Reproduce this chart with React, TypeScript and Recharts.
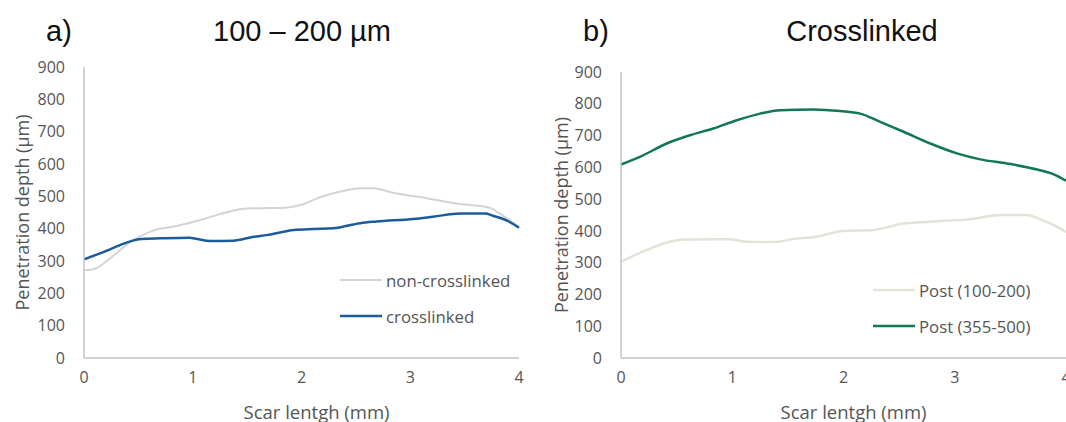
import React from 'react';
import { LineChart, Line, XAxis, YAxis } from 'recharts';

const xTicks = [0, 1, 2, 3, 4];
const yTicks = [0, 100, 200, 300, 400, 500, 600, 700, 800, 900];

// Panel a) 100 – 200 µm
const nonCrossX = [0, 0.08, 0.24, 0.39, 0.61, 0.85, 1.07, 1.25, 1.4, 1.56, 1.86, 1.99, 2.17, 2.35, 2.54, 2.66, 2.84, 3.15, 3.46, 3.73, 3.82, 3.91, 4.0];
const nonCrossY = [272, 274, 308, 350, 391, 408, 427, 445, 458, 463, 465, 473, 497, 514, 525, 525, 511, 494, 476, 465, 447, 427, 405];
const crossX = [0, 0.24, 0.39, 0.53, 0.7, 0.97, 1.04, 1.16, 1.37, 1.56, 1.68, 1.93, 2.11, 2.29, 2.54, 2.69, 3.03, 3.21, 3.46, 3.69, 3.76, 3.89, 4.0];
const crossY = [305, 336, 357, 368, 370, 372, 368, 362, 363, 375, 380, 396, 399, 401, 417, 422, 430, 437, 447, 447, 440, 425, 403];

// Panel b) Crosslinked
const post100X = [0, 0.23, 0.44, 0.59, 0.98, 1.13, 1.37, 1.58, 1.73, 2.0, 2.27, 2.54, 2.78, 3.14, 3.41, 3.65, 3.77, 3.89, 4.0];
const post100Y = [303, 340, 366, 373, 374, 366, 365, 376, 380, 400, 403, 423, 429, 437, 450, 450, 436, 418, 397];
const post355X = [0, 0.17, 0.41, 0.62, 0.83, 1.04, 1.25, 1.43, 1.73, 1.97, 2.15, 2.33, 2.54, 2.78, 3.02, 3.23, 3.47, 3.74, 3.89, 4.0];
const post355Y = [609, 633, 675, 701, 722, 748, 769, 780, 782, 777, 769, 743, 712, 675, 644, 625, 612, 593, 578, 558];

const toPoints = (xs: number[], ys: number[]) => xs.map((x, i) => ({ x, y: ys[i] }));

const FONT = '"Open Sans", sans-serif';
const TEXT = '#555555';
const AXIS = '#c4c4c4';

type Series = { name: string; xs: number[]; ys: number[]; color: string; width: number };

type PanelProps = {
  left: number;
  width: number;
  top: number;
  right: number;
  series: Series[];
  legendLeft: number;
  legendTop: number;
  yLabelX: number;
  xLabelDx: number;
};

function Panel(p: PanelProps) {
  return (
    <div style={{ position: 'absolute', left: p.left, top: 0, width: p.width, height: 422 }}>
      <LineChart width={p.width} height={422} margin={{ top: p.top, right: p.right, left: 0, bottom: 0 }}>
        <XAxis
          dataKey="x"
          type="number"
          domain={[0, 4]}
          ticks={xTicks}
          height={64}
          tickLine={false}
          tickSize={0}
          tickMargin={14}
          axisLine={{ stroke: AXIS, strokeWidth: 1.5 }}
          tick={{ fill: TEXT, fontSize: 16, fontFamily: FONT }}
          label={{
            content: (props: any) => {
              const vb = props.viewBox || {};
              return (
                <text
                  x={vb.x + vb.width / 2 + p.xLabelDx}
                  y={vb.y + 53}
                  textAnchor="middle"
                  dominantBaseline="central"
                  fill={TEXT}
                  fontSize={18.5}
                  fontFamily={FONT}
                >
                  Scar lentgh (mm)
                </text>
              );
            },
          }}
        />
        <YAxis
          type="number"
          domain={[0, 900]}
          ticks={yTicks}
          width={84}
          tickLine={false}
          tickSize={0}
          tickMargin={19}
          axisLine={{ stroke: AXIS, strokeWidth: 1.5 }}
          tick={{ fill: TEXT, fontSize: 16, fontFamily: FONT }}
          label={{
            content: (props: any) => {
              const vb = props.viewBox || {};
              const cx = vb.x + p.yLabelX;
              const cy = vb.y + vb.height / 2;
              return (
                <text
                  x={cx}
                  y={cy}
                  transform={`rotate(-90 ${cx} ${cy})`}
                  textAnchor="middle"
                  dominantBaseline="central"
                  fill={TEXT}
                  fontSize={18}
                  fontFamily={FONT}
                >
                  Penetration depth (µm)
                </text>
              );
            },
          }}
        />
        {p.series.map((s) => (
          <Line
            key={s.name}
            name={s.name}
            data={toPoints(s.xs, s.ys)}
            dataKey="y"
            type="monotone"
            stroke={s.color}
            strokeWidth={s.width}
            dot={false}
            activeDot={false}
            isAnimationActive={false}
          />
        ))}
      </LineChart>
      <div style={{ position: 'absolute', left: p.legendLeft, top: p.legendTop, fontFamily: FONT, fontSize: 16.8, color: TEXT }}>
        {p.series.map((it) => (
          <div key={it.name} style={{ display: 'flex', alignItems: 'center', height: 36, whiteSpace: 'nowrap' }}>
            <svg width={42} height={10} style={{ marginRight: 4 }}>
              <line x1={0} y1={5} x2={42} y2={5} stroke={it.color} strokeWidth={it.width} />
            </svg>
            <span>{it.name}</span>
          </div>
        ))}
      </div>
    </div>
  );
}

export default function App() {
  return (
    <div style={{ position: 'absolute', left: 0, top: 0, width: 1066, height: 422, background: '#fff', overflow: 'hidden' }}>
      <svg width={1066} height={60} style={{ position: 'absolute', left: 0, top: 0 }}>
        <g fontFamily='"Liberation Sans", Arial, sans-serif' fontSize={29} fill="#111">
          <text x={46} y={41}>a)</text>
          <text x={302} y={41} textAnchor="middle">100 – 200 µm</text>
          <text x={583} y={41}>b)</text>
          <text x={862} y={41} textAnchor="middle">Crosslinked</text>
        </g>
      </svg>
      <Panel
        left={0}
        width={530}
        top={67}
        right={11}
        series={[
          { name: 'non-crosslinked', xs: nonCrossX, ys: nonCrossY, color: '#d3d4d9', width: 2 },
          { name: 'crosslinked', xs: crossX, ys: crossY, color: '#1c5b9c', width: 2.5 },
        ]}
        legendLeft={340}
        legendTop={262}
        yLabelX={22}
        xLabelDx={15}
      />
      <Panel
        left={537}
        width={536}
        top={72}
        right={7}
        series={[
          { name: 'Post (100-200)', xs: post100X, ys: post100Y, color: '#e3e3d8', width: 2.5 },
          { name: 'Post (355-500)', xs: post355X, ys: post355Y, color: '#12775a', width: 2.5 },
        ]}
        legendLeft={336}
        legendTop={272}
        yLabelX={24}
        xLabelDx={10}
      />
    </div>
  );
}
